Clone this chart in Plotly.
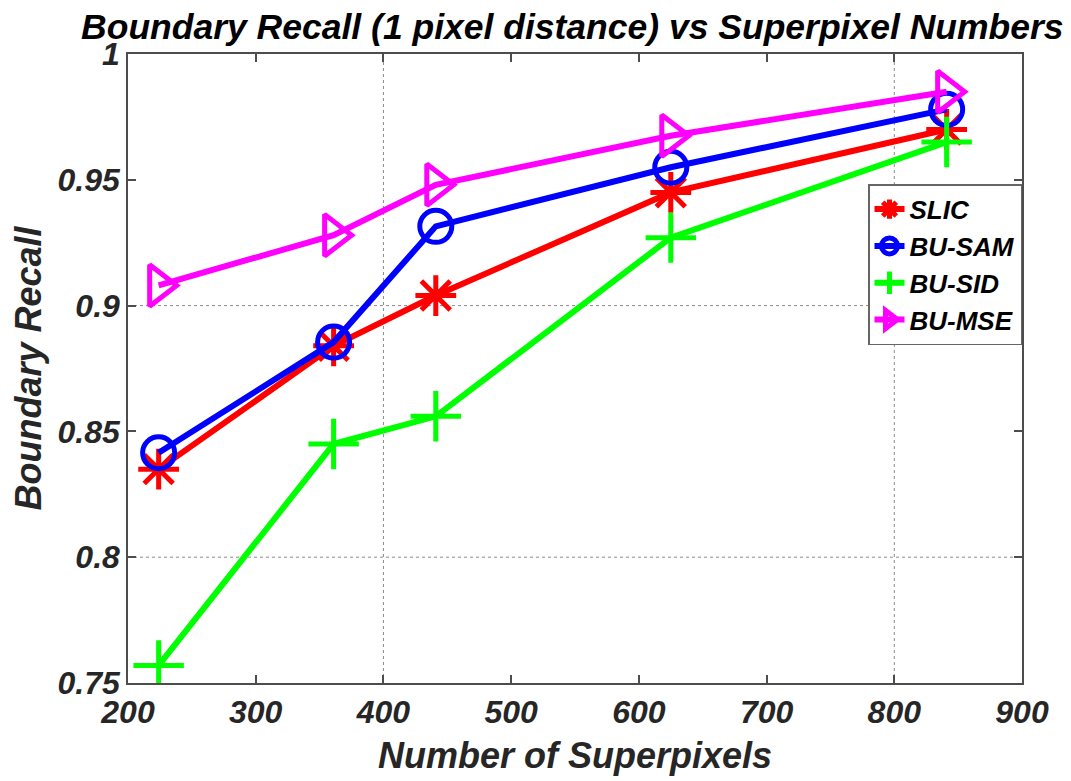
import plotly.graph_objects as go

superpixels = [224, 361, 441, 625, 841]
slic = [0.835, 0.884, 0.904, 0.945, 0.970]
bu_sam = [0.8415, 0.8855, 0.9315, 0.955, 0.978]
bu_sid = [0.757, 0.845, 0.856, 0.927, 0.965]
bu_mse = [0.908, 0.928, 0.948, 0.9675, 0.985]

series = [
    ("SLIC", slic, "#FF0000", "asterisk-open", 34),
    ("BU-SAM", bu_sam, "#0000FF", "circle-open", 32),
    ("BU-SID", bu_sid, "#00FF00", "cross-thin-open", 36),
    ("BU-MSE", bu_mse, "#FF00FF", "triangle-right-open", 36),
]

FONT = "Liberation Sans, Arial, sans-serif"
TXT = "#262626"

fig = go.Figure()
for name, ys, col, sym, sz in series:
    fig.add_trace(go.Scatter(
        x=superpixels, y=ys, name=name, mode="lines+markers",
        line=dict(color=col, width=6),
        marker=dict(symbol=sym, size=sz, color=col, line=dict(color=col, width=5)),
    ))

# sparse dotted grid (as in the original figure)
for gx in [400, 800]:
    fig.add_shape(type="line", xref="x", yref="paper", x0=gx, x1=gx, y0=0, y1=1,
                  line=dict(color="#8a8a8a", width=1, dash="dot"), layer="below")
for gy in [0.8, 0.9]:
    fig.add_shape(type="line", xref="paper", yref="y", x0=0, x1=1, y0=gy, y1=gy,
                  line=dict(color="#8a8a8a", width=1, dash="dot"), layer="below")

axis_common = dict(
    showline=True, linecolor="#4d4d4d", linewidth=1.5, mirror="ticks",
    ticks="inside", ticklen=8, tickcolor="#4d4d4d", tickwidth=1.5,
    showgrid=False, zeroline=False,
    tickfont=dict(family=FONT, size=32, color=TXT, weight="bold", style="italic"),
)

fig.update_layout(
    width=1071, height=781,
    margin=dict(l=114, r=57, t=46, b=106),
    paper_bgcolor="white", plot_bgcolor="white",
    title=dict(
        text="Boundary Recall (1 pixel distance) vs Superpixel Numbers",
        font=dict(family=FONT, size=35.5, color="#000000", weight="bold", style="italic"),
        x=0.497, xref="paper", xanchor="center",
        y=1 - 19 / 781, yref="container", yanchor="middle",
    ),
    xaxis=dict(
        range=[200, 900], tickmode="linear", tick0=200, dtick=100,
        title=dict(text="Number of Superpixels", standoff=14,
                   font=dict(family=FONT, size=36, color=TXT, weight="bold", style="italic")),
        **axis_common,
    ),
    yaxis=dict(
        range=[0.75, 1.0], tickmode="array",
        tickvals=[0.75, 0.8, 0.85, 0.9, 0.95, 1.0],
        ticktext=["0.75", "0.8", "0.85", "0.9", "0.95", "1"],
        title=dict(text="Boundary Recall", standoff=12,
                   font=dict(family=FONT, size=36, color=TXT, weight="bold", style="italic")),
        **axis_common,
    ),
    legend=dict(
        x=1.0, xanchor="right", y=0.793, yanchor="top",
        bgcolor="white", bordercolor="#666666", borderwidth=1.5,
        font=dict(family=FONT, size=26, color="#000000", weight="bold", style="italic"),
        itemwidth=30, tracegroupgap=0,
    ),
    showlegend=True,
)

fig.write_html("out.html")
